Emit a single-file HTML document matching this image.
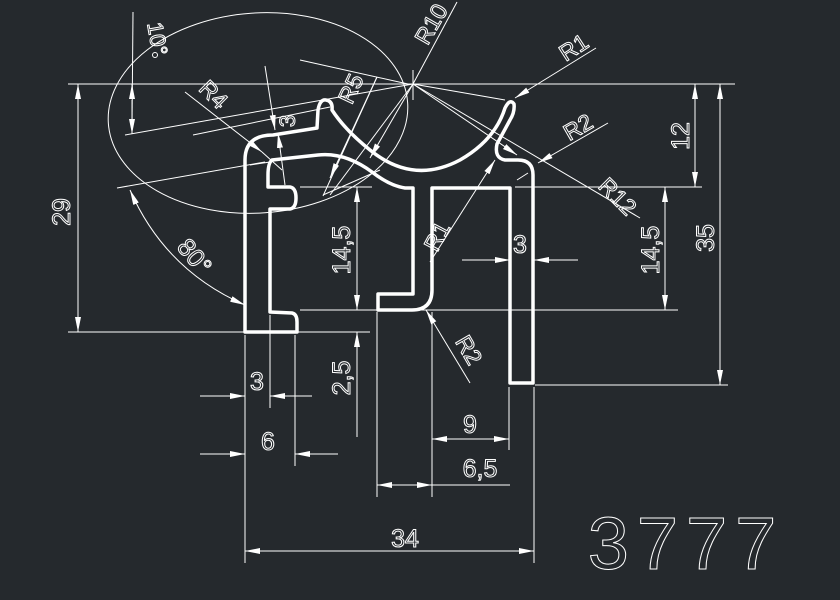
<!DOCTYPE html>
<html><head><meta charset="utf-8"><style>
html,body{margin:0;padding:0;background:#25292d;}
svg{display:block;}
text{font-family:"Liberation Sans",sans-serif;fill:none;stroke:#fff;stroke-width:1;}
</style></head><body>
<svg width="840" height="600" viewBox="0 0 840 600" xmlns="http://www.w3.org/2000/svg">
<defs>
<marker id="a" markerUnits="userSpaceOnUse" markerWidth="16" markerHeight="10" refX="15" refY="4" orient="auto-start-reverse">
<path d="M0,1 L15,4 L0,7 Z" fill="#fff"/>
</marker>
</defs>
<rect width="840" height="600" fill="#25292d"/>
<g stroke="#fff" stroke-width="1" fill="none">
<line x1="68" y1="84" x2="735" y2="84"/>
<line x1="68" y1="332" x2="370" y2="332"/>
<line x1="300" y1="310" x2="678" y2="310"/>
<line x1="515" y1="187" x2="702" y2="187"/>
<line x1="535" y1="385" x2="728" y2="385"/>
<line x1="300" y1="187" x2="372" y2="187"/>
<line x1="245" y1="335" x2="245" y2="563"/>
<line x1="270" y1="315" x2="270" y2="408"/>
<line x1="295" y1="335" x2="295" y2="466"/>
<line x1="377" y1="312" x2="377" y2="497"/>
<line x1="432" y1="312" x2="432" y2="497"/>
<line x1="509" y1="387" x2="509" y2="450"/>
<line x1="534" y1="387" x2="534" y2="563"/>
<line x1="78" y1="84" x2="78" y2="332" marker-start="url(#a)" marker-end="url(#a)"/>
<line x1="695" y1="84" x2="695" y2="187" marker-start="url(#a)" marker-end="url(#a)"/>
<line x1="720" y1="84" x2="720" y2="385" marker-start="url(#a)" marker-end="url(#a)"/>
<line x1="665" y1="187" x2="665" y2="310" marker-start="url(#a)" marker-end="url(#a)"/>
<line x1="357" y1="187" x2="357" y2="310" marker-start="url(#a)" marker-end="url(#a)"/>
<line x1="357" y1="437" x2="357" y2="332" marker-end="url(#a)"/>
<line x1="357" y1="300" x2="357" y2="310" />
<line x1="462" y1="260" x2="510" y2="260" marker-end="url(#a)"/>
<line x1="578" y1="260" x2="534" y2="260" marker-end="url(#a)"/>
<line x1="200" y1="396" x2="245" y2="396" marker-end="url(#a)"/>
<line x1="312" y1="396" x2="270" y2="396" marker-end="url(#a)"/>
<line x1="200" y1="454" x2="245" y2="454" marker-end="url(#a)"/>
<line x1="338" y1="454" x2="295" y2="454" marker-end="url(#a)"/>
<line x1="432" y1="439" x2="509" y2="439" marker-start="url(#a)" marker-end="url(#a)"/>
<line x1="377" y1="485" x2="432" y2="485" marker-start="url(#a)" marker-end="url(#a)"/>
<line x1="432" y1="485" x2="510" y2="485"/>
<line x1="245" y1="551" x2="534" y2="551" marker-start="url(#a)" marker-end="url(#a)"/>
<ellipse cx="258" cy="113" rx="150" ry="100" transform="rotate(-4 258 113)"/>
<line x1="133" y1="12" x2="132" y2="128" />
<line x1="132" y1="92" x2="132" y2="84" marker-end="url(#a)"/>
<line x1="132" y1="100" x2="132" y2="134" marker-end="url(#a)"/>
<line x1="125" y1="135" x2="413" y2="84"/>
<line x1="117" y1="188" x2="265" y2="162"/>
<path d="M130,190 Q165,270 245,305" marker-start="url(#a)" marker-end="url(#a)"/>
<circle cx="155" cy="55" r="2.5"/>
<line x1="408" y1="84" x2="300" y2="60"/>
<line x1="413" y1="70" x2="413" y2="100"/>
<line x1="413" y1="84" x2="505" y2="100"/>
<line x1="413" y1="84" x2="640" y2="218"/>
<line x1="413" y1="84" x2="457" y2="2"/>
<line x1="413" y1="84" x2="330" y2="195"/>
<line x1="413" y1="84" x2="370" y2="158" marker-end="url(#a)"/>
<line x1="596" y1="48" x2="515" y2="98" marker-end="url(#a)"/>
<line x1="608" y1="123" x2="538" y2="163" marker-end="url(#a)"/>
<line x1="517" y1="180" x2="528" y2="173"/>
<line x1="413" y1="84" x2="517" y2="155" marker-end="url(#a)"/>
<line x1="430" y1="262" x2="495" y2="160" marker-end="url(#a)"/>
<line x1="470" y1="383" x2="426" y2="310" marker-end="url(#a)"/>
<line x1="185" y1="92" x2="262" y2="152" marker-end="url(#a)"/>
<line x1="262" y1="152" x2="282" y2="170"/>
<line x1="377" y1="77" x2="323" y2="196"/>
<line x1="377" y1="77" x2="330" y2="178" marker-end="url(#a)"/>
<line x1="265" y1="66" x2="275" y2="130" marker-end="url(#a)"/>
<line x1="285" y1="185" x2="278" y2="133" marker-end="url(#a)"/>
<line x1="193" y1="135" x2="330" y2="107"/>
<line x1="250" y1="165" x2="270" y2="162"/>
<line x1="323" y1="195" x2="380" y2="170"/>
</g>
<path d="M245,160 Q245,135 273,135 L317,128 L318,110 Q320,99 326,100 Q333,101 332,110
 Q345,130 370,150 Q413,185 460,160 Q495,140 505,108 Q510,98 514,104 Q515,112 510,120
 L497,144 Q494,158 505,160 L518,160 Q533,160 533,175 L533,383 L510,383 L510,188 L432,188
 L432,290 Q432,310 412,310 L378,310 L378,294 L413,294 L413,188 L405,188
 Q390,186 372,172 Q345,152 318,155 L272,160 Q268,163 268,175 L268,187 L290,187 Q296,188 296,198 Q296,208 290,209 L270,209 L270,312 L292,313 Q297,314 297,322 L297,332 L245,332 Z"
 fill="none" stroke="#fff" stroke-width="3.5" stroke-linejoin="round"/>
<text x="70" y="212" font-size="25" transform="rotate(-90 70 212)" text-anchor="middle">29</text>
<text x="689" y="136" font-size="25" transform="rotate(-90 689 136)" text-anchor="middle">12</text>
<text x="714" y="238" font-size="25" transform="rotate(-90 714 238)" text-anchor="middle">35</text>
<text x="659" y="250" font-size="25" transform="rotate(-90 659 250)" text-anchor="middle">14,5</text>
<text x="350" y="250" font-size="25" transform="rotate(-90 350 250)" text-anchor="middle">14,5</text>
<text x="350" y="378" font-size="25" transform="rotate(-90 350 378)" text-anchor="middle">2,5</text>
<text x="520" y="253" font-size="25" text-anchor="middle">3</text>
<text x="257" y="390" font-size="25" text-anchor="middle">3</text>
<text x="268" y="450" font-size="25" text-anchor="middle">6</text>
<text x="470" y="433" font-size="25" text-anchor="middle">9</text>
<text x="480" y="477" font-size="25" text-anchor="middle">6,5</text>
<text x="405" y="547" font-size="25" text-anchor="middle">34</text>
<text x="295" y="121" font-size="22" transform="rotate(-90 295 121)" text-anchor="middle">3</text>
<text x="208" y="100" font-size="23" transform="rotate(45 208 100)" text-anchor="middle">R4</text>
<text x="358" y="92" font-size="23" transform="rotate(-65 358 92)" text-anchor="middle">R5</text>
<text x="438" y="28" font-size="23" transform="rotate(-60 438 28)" text-anchor="middle">R10</text>
<text x="578" y="54" font-size="23" transform="rotate(-33 578 54)" text-anchor="middle">R1</text>
<text x="582" y="134" font-size="23" transform="rotate(-30 582 134)" text-anchor="middle">R2</text>
<text x="612" y="202" font-size="23" transform="rotate(45 612 202)" text-anchor="middle">R12</text>
<text x="444" y="240" font-size="23" transform="rotate(-62 444 240)" text-anchor="middle">R1</text>
<text x="462" y="354" font-size="23" transform="rotate(60 462 354)" text-anchor="middle">R2</text>
<text x="150" y="40" font-size="22" transform="rotate(80 150 40)" text-anchor="middle">10°</text>
<text x="188" y="262" font-size="25" transform="rotate(50 188 262)" text-anchor="middle">80°</text>
<text x="686" y="569" font-size="74" text-anchor="middle" letter-spacing="8" stroke-width="1.3">3777</text>
</svg>
</body></html>
